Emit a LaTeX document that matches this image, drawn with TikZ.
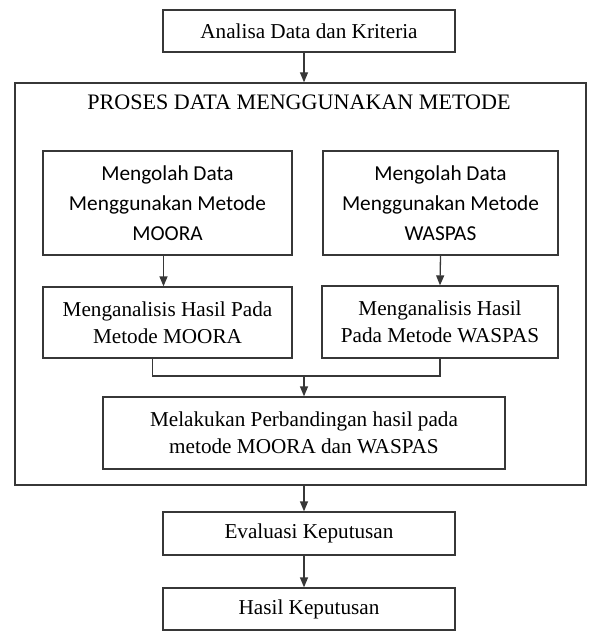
\documentclass[tikz,border=0pt]{standalone}
\usepackage{fontspec}
\setmainfont{Liberation Serif}
\newfontfamily\calibri{Carlito}
\usetikzlibrary{positioning, calc, arrows.meta}
\definecolor{garisabu}{RGB}{55,55,55}

\tikzset{
  kotak/.style={draw=garisabu, line width=1.3pt, inner sep=0pt, align=center,
                font=\fontsize{21.2}{27}\selectfont},
  kotaksans/.style={kotak, font=\calibri\fontsize{21.3}{30}\selectfont},
  garis/.style={draw=garisabu, line width=1.3pt},
  panah/.style={garis, -{Triangle[length=10pt,width=8pt]}}
}

\begin{document}
\begin{tikzpicture}[x=1pt, y=-1pt]
  \useasboundingbox (0,0) rectangle (589,631);

  \node[kotak, minimum width=292pt, minimum height=42pt] (ana) at (309,31) {Analisa Data dan Kriteria};

  % kotak besar proses
  \node[kotak, minimum width=571pt, minimum height=402pt] (proses) at (300.5,284) {};
  \node[anchor=base, font=\fontsize{22.1}{27}\selectfont] (judul) at (299,110) {PROSES DATA MENGGUNAKAN METODE};

  \node[kotaksans, minimum width=249pt, minimum height=104pt] (olahM) at (167.5,203)
       {Mengolah Data\\Menggunakan Metode\\MOORA};
  \node[kotaksans, minimum width=235pt, minimum height=104pt] (olahW) at (440.5,203)
       {Mengolah Data\\Menggunakan Metode\\WASPAS};

  \node[kotak, minimum width=249pt, minimum height=71pt] (hasilM) at (167.5,322.5)
       {Menganalisis Hasil Pada\\Metode MOORA};
  \node[kotak, minimum width=236pt, minimum height=72pt] (hasilW) at (440,322)
       {Menganalisis Hasil\\Pada Metode WASPAS};

  \node[kotak, minimum width=402pt, minimum height=72pt] (banding) at (304,433)
       {Melakukan Perbandingan hasil pada\\metode MOORA dan WASPAS};

  \node[kotak, minimum width=292pt, minimum height=43pt] (eval) at (309,533.5) {Evaluasi Keputusan};
  \node[kotak, minimum width=292pt, minimum height=42pt] (hasil) at (309,609) {Hasil Keputusan};

  \coordinate (gabung) at (304,376);

  % panah
  \draw[panah] (ana.south -| banding.north) -- (proses.north -| banding.north);
  \draw[panah] ([xshift=-4pt]olahM.south) -- ([xshift=-4pt]hasilM.north);
  \draw[panah] (olahW.south) -- (hasilW.north);
  \draw[garis] ([xshift=-15pt]hasilM.south) |- (gabung) -| (hasilW.south);
  \draw[panah] (gabung) -- (banding.north);
  \draw[panah] (proses.south -| banding.north) -- (eval.north -| banding.north);
  \draw[panah] (eval.south -| banding.north) -- (hasil.north -| banding.north);
\end{tikzpicture}
\end{document}
